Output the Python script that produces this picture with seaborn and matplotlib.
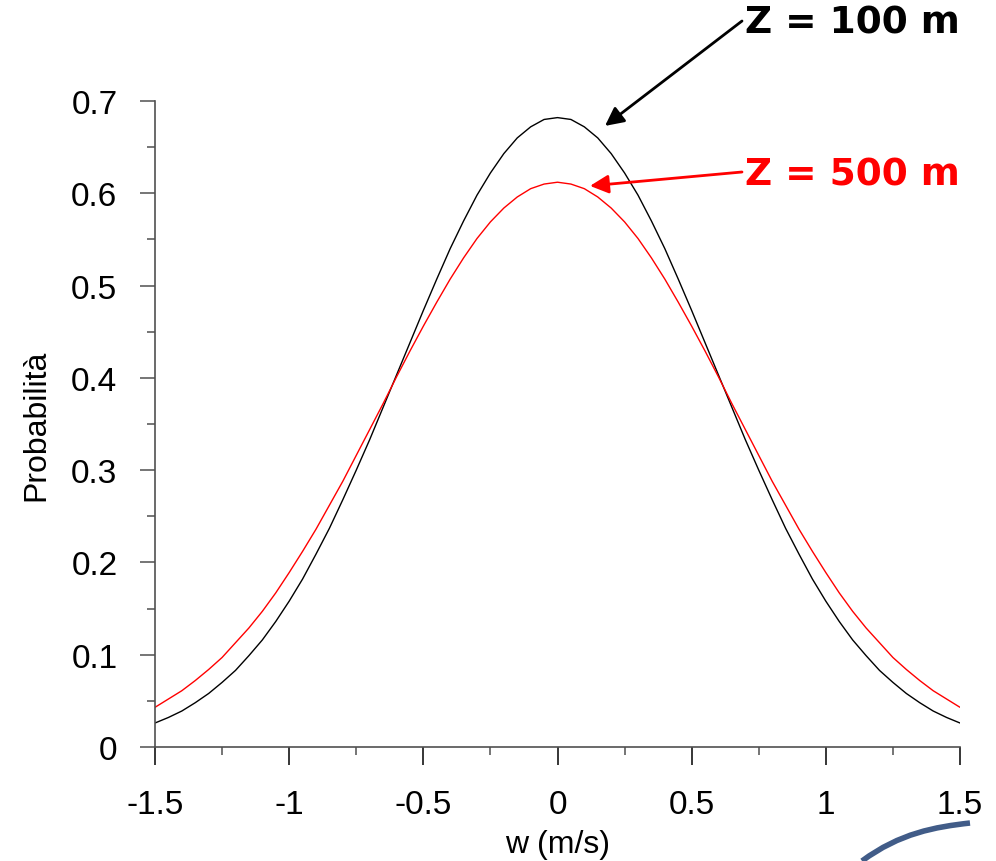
import matplotlib
matplotlib.use("Agg")
import matplotlib.pyplot as plt
import seaborn as sns
import pandas as pd
from matplotlib.ticker import MultipleLocator
from matplotlib.path import Path
from matplotlib.patches import PathPatch

# ---- data ----
w_values = [-1.50, -1.45, -1.40, -1.35, -1.30, -1.25, -1.20, -1.15, -1.10, -1.05,
            -1.00, -0.95, -0.90, -0.85, -0.80, -0.75, -0.70, -0.65, -0.60, -0.55,
            -0.50, -0.45, -0.40, -0.35, -0.30, -0.25, -0.20, -0.15, -0.10, -0.05,
            0.00, 0.05, 0.10, 0.15, 0.20, 0.25, 0.30, 0.35, 0.40, 0.45,
            0.50, 0.55, 0.60, 0.65, 0.70, 0.75, 0.80, 0.85, 0.90, 0.95,
            1.00, 1.05, 1.10, 1.15, 1.20, 1.25, 1.30, 1.35, 1.40, 1.45, 1.50]

prob_z100 = [0.026, 0.032, 0.039, 0.048, 0.058, 0.070, 0.083, 0.099, 0.116, 0.136,
             0.158, 0.182, 0.209, 0.237, 0.268, 0.300, 0.333, 0.368, 0.403, 0.438,
             0.473, 0.507, 0.540, 0.570, 0.598, 0.622, 0.643, 0.660, 0.672, 0.680,
             0.682, 0.680, 0.672, 0.660, 0.643, 0.622, 0.598, 0.570, 0.540, 0.507,
             0.473, 0.438, 0.403, 0.368, 0.333, 0.300, 0.268, 0.237, 0.209, 0.182,
             0.158, 0.136, 0.116, 0.099, 0.083, 0.070, 0.058, 0.048, 0.039, 0.032, 0.026]

prob_z500 = [0.043, 0.052, 0.061, 0.072, 0.084, 0.097, 0.113, 0.129, 0.147, 0.167,
             0.189, 0.212, 0.236, 0.262, 0.288, 0.316, 0.344, 0.372, 0.401, 0.429,
             0.456, 0.482, 0.507, 0.530, 0.551, 0.569, 0.584, 0.596, 0.605, 0.610,
             0.612, 0.610, 0.605, 0.596, 0.584, 0.569, 0.551, 0.530, 0.507, 0.482,
             0.456, 0.429, 0.401, 0.372, 0.344, 0.316, 0.288, 0.262, 0.236, 0.212,
             0.189, 0.167, 0.147, 0.129, 0.113, 0.097, 0.084, 0.072, 0.061, 0.052, 0.043]

x_ticks = [-1.5, -1, -0.5, 0, 0.5, 1, 1.5]
x_tick_labels = ["-1.5", "-1", "-0.5", "0", "0.5", "1", "1.5"]
y_ticks = [0, 0.1, 0.2, 0.3, 0.4, 0.5, 0.6, 0.7]
y_tick_labels = ["0", "0.1", "0.2", "0.3", "0.4", "0.5", "0.6", "0.7"]
label_100 = "Z = 100 m"
label_500 = "Z = 500 m"

df = pd.DataFrame({"w": w_values + w_values,
                   "p": prob_z100 + prob_z500,
                   "serie": [label_100] * len(w_values) + [label_500] * len(w_values)})

sns.set_style("ticks")
plt.rcParams["font.family"] = ["Liberation Sans", "DejaVu Sans"]
plt.rcParams["text.color"] = "black"
plt.rcParams["axes.labelcolor"] = "black"
plt.rcParams["xtick.color"] = "black"
plt.rcParams["ytick.color"] = "black"

W, H = 996, 862
fig = plt.figure(figsize=(W / 100, H / 100), dpi=100)
ax = fig.add_axes([155 / W, 1 - 748 / H, (960 - 155) / W, (748 - 102) / H])

sns.lineplot(data=df, x="w", y="p", hue="serie",
             palette={label_100: "black", label_500: "#ff0000"},
             linewidth=1.0, ax=ax, legend=False)

ax.set_xlim(-1.5, 1.5)
ax.set_ylim(0, 0.7)
ax.set_xticks(x_ticks)
ax.set_xticklabels(x_tick_labels)
ax.set_yticks(y_ticks)
ax.set_yticklabels(y_tick_labels)
ax.xaxis.set_minor_locator(MultipleLocator(0.25))
ax.yaxis.set_minor_locator(MultipleLocator(0.05))

sns.despine(ax=ax)
for s in ["left", "bottom"]:
    ax.spines[s].set_color("#505050")
    ax.spines[s].set_linewidth(1.2)

ax.tick_params(axis="x", which="major", length=13, width=1.1, color="black",
               labelsize=24, pad=17, labelcolor="black")
ax.tick_params(axis="y", which="major", length=11, width=1.1, color="#505050",
               labelsize=24, pad=16, labelcolor="black")
ax.tick_params(axis="both", which="minor", length=6, width=1.1, color="#505050")

ax.set_xlabel("w (m/s)", fontsize=23, labelpad=7)
ax.set_ylabel("Probabilità", fontsize=23, labelpad=14)

# annotations
fig.text(745 / W, 1 - 24 / H, label_100, fontsize=27, fontweight="bold",
         family="DejaVu Sans", color="black", ha="left", va="center")
fig.text(745 / W, 1 - 176 / H, label_500, fontsize=27, fontweight="bold",
         family="DejaVu Sans", color="#ff0000", ha="left", va="center")

ax.annotate("", xy=(0.177, 0.673), xycoords="data",
            xytext=(742, H - 22), textcoords="figure pixels",
            arrowprops=dict(arrowstyle="-|>", color="black", lw=2,
                            mutation_scale=28, shrinkA=0, shrinkB=0),
            annotation_clip=False)
ax.annotate("", xy=(0.121, 0.608), xycoords="data",
            xytext=(742, H - 173), textcoords="figure pixels",
            arrowprops=dict(arrowstyle="-|>", color="#ff0000", lw=2,
                            mutation_scale=28, shrinkA=0, shrinkB=0),
            annotation_clip=False)

# decorative logo fragment at bottom right
verts = [(862 / W, 0.0), (900 / W, 28 / H), (935 / W, 34 / H), (970 / W, 38 / H)]
path = Path(verts, [Path.MOVETO, Path.CURVE4, Path.CURVE4, Path.CURVE4])
fig.patches.append(PathPatch(path, transform=fig.transFigure, facecolor="none",
                             edgecolor="#1f3f73", lw=4, alpha=0.85))

fig.savefig("out.png", dpi=100)
